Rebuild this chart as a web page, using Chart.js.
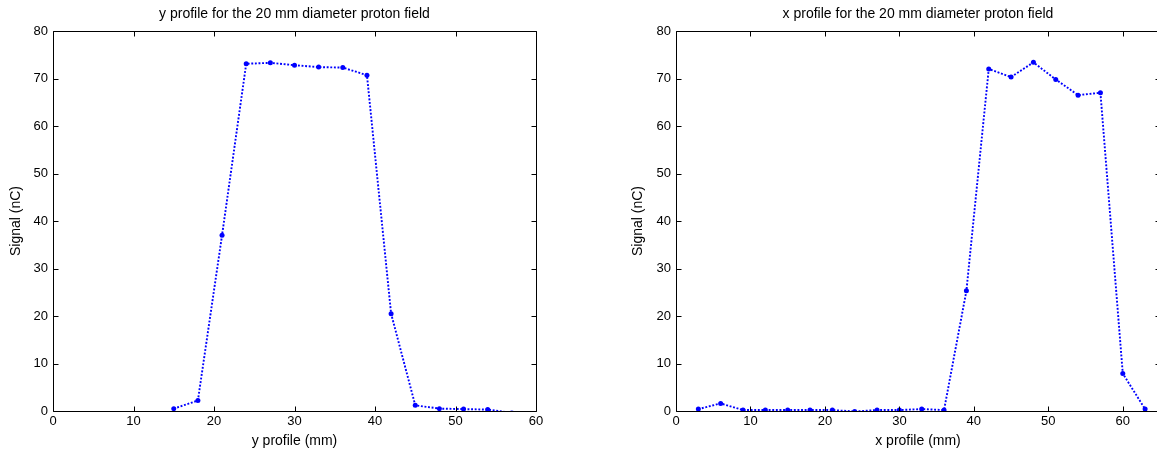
<!DOCTYPE html>
<html>
<head>
<meta charset="utf-8">
<script src="https://cdn.jsdelivr.net/npm/chart.js@4.4.1/dist/chart.umd.min.js"></script>
<style>
  html, body { margin:0; padding:0; background:#fff; width:1157px; height:454px; overflow:hidden; position:relative; }
  canvas { position:absolute; top:0; }
</style>
</head>
<body>
<canvas id="c1" width="560" height="454" style="left:0px"></canvas>
<canvas id="c2" width="600" height="454" style="left:600px"></canvas>
<script>
// ---- data ----
const yProfilePos = [15, 18, 21, 24, 27, 30, 33, 36, 39, 42, 45, 48, 51, 54, 57];
const yProfileSignal = [0.5, 2.2, 37.0, 73.1, 73.3, 72.8, 72.4, 72.3, 70.7, 20.5, 1.2, 0.5, 0.4, 0.3, -0.4];
const xProfilePos = [3, 6, 9, 12, 15, 18, 21, 24, 27, 30, 33, 36, 39, 42, 45, 48, 51, 54, 57, 60, 63];
const xProfileSignal = [0.4, 1.6, 0.2, 0.2, 0.2, 0.2, 0.2, -0.1, 0.2, 0.2, 0.4, 0.2, 25.3, 72.0, 70.3, 73.4, 69.8, 66.5, 67.0, 7.9, 0.4];
const yTicks = [0, 10, 20, 30, 40, 50, 60, 70, 80];
const xTicks = [0, 10, 20, 30, 40, 50, 60];
const titles = ["y profile for the 20 mm diameter proton field", "x profile for the 20 mm diameter proton field"];
const xLabels = ["y profile (mm)", "x profile (mm)"];
const yLabel = "Signal (nC)";

const FONT = "'Liberation Sans', Arial, sans-serif";
const BLUE = '#0000ff';

function framePlugin(title, xLabel, yLabelX) {
  return {
    id: 'frame',
    afterDraw(chart) {
      const ctx = chart.ctx, a = chart.chartArea;
      const xs = chart.scales.x, ys = chart.scales.y;
      ctx.save();
      ctx.strokeStyle = '#000';
      ctx.lineWidth = 1;
      const L = Math.round(a.left) + 0.5, R = Math.round(a.right) + 0.5;
      const T = Math.round(a.top) + 0.5, B = Math.round(a.bottom) + 0.5;
      ctx.beginPath();
      ctx.rect(L, T, R - L, B - T);
      const tl = 5;
      xTicks.forEach(v => {
        if (v > xs.max) return;
        const p = Math.round(xs.getPixelForValue(v)) + 0.5;
        ctx.moveTo(p, B); ctx.lineTo(p, B - tl);
        ctx.moveTo(p, T); ctx.lineTo(p, T + tl);
      });
      yTicks.forEach(v => {
        const p = Math.round(ys.getPixelForValue(v)) + 0.5;
        ctx.moveTo(L, p); ctx.lineTo(L + tl, p);
        ctx.moveTo(R, p); ctx.lineTo(R - tl, p);
      });
      ctx.stroke();
      ctx.fillStyle = '#000';
      ctx.font = '14px ' + FONT;
      ctx.textAlign = 'center';
      ctx.textBaseline = 'middle';
      const cx = (a.left + a.right) / 2;
      ctx.fillText(title, cx, 14);
      ctx.fillText(xLabel, cx, 441);
      ctx.translate(yLabelX, (a.top + a.bottom) / 2);
      ctx.rotate(-Math.PI / 2);
      ctx.fillText(yLabel, 0, 0);
      ctx.restore();
    }
  };
}

function makeChart(id, xsArr, ysArr, xMax, yAxisWidth, padRight, title, xLabel, yLabelX) {
  const pts = xsArr.map((x, i) => ({ x: x, y: ysArr[i] }));
  return new Chart(document.getElementById(id), {
    type: 'scatter',
    data: {
      datasets: [{
        data: pts,
        showLine: true,
        borderColor: BLUE,
        backgroundColor: BLUE,
        borderWidth: 1.9,
        borderDash: [1.9, 1.7],
        pointRadius: 2.5,
        pointBorderWidth: 0,
        pointBackgroundColor: BLUE,
        clip: { left: 5, right: 5, top: 5, bottom: 0 }
      }]
    },
    options: {
      responsive: false,
      animation: false,
      devicePixelRatio: 1,
      layout: { padding: { left: 0, right: padRight, top: 31, bottom: 0 } },
      plugins: { legend: { display: false }, tooltip: { enabled: false }, title: { display: false } },
      scales: {
        x: {
          type: 'linear', min: 0, max: xMax,
          grid: { display: false, drawTicks: false, tickLength: 0 },
          border: { display: false },
          afterBuildTicks: s => { s.ticks = xTicks.filter(v => v <= xMax).map(v => ({ value: v })); },
          afterFit: s => { s.height = 43; },
          ticks: { color: '#000', padding: 3, maxRotation: 0, autoSkip: false, font: { family: FONT, size: 13 } }
        },
        y: {
          type: 'linear', min: 0, max: 80,
          grid: { display: false, drawTicks: false, tickLength: 0 },
          border: { display: false },
          afterBuildTicks: s => { s.ticks = yTicks.map(v => ({ value: v })); },
          afterFit: s => { s.width = yAxisWidth; },
          ticks: { color: '#000', padding: 5, autoSkip: false, font: { family: FONT, size: 13 } }
        }
      }
    },
    plugins: [framePlugin(title, xLabel, yLabelX)]
  });
}

makeChart('c1', yProfilePos, yProfileSignal, 60, 53, 24, titles[0], xLabels[0], 16.5);
makeChart('c2', xProfilePos, xProfileSignal, 65, 76, 40, titles[1], xLabels[1], 38.5);
</script>
</body>
</html>
